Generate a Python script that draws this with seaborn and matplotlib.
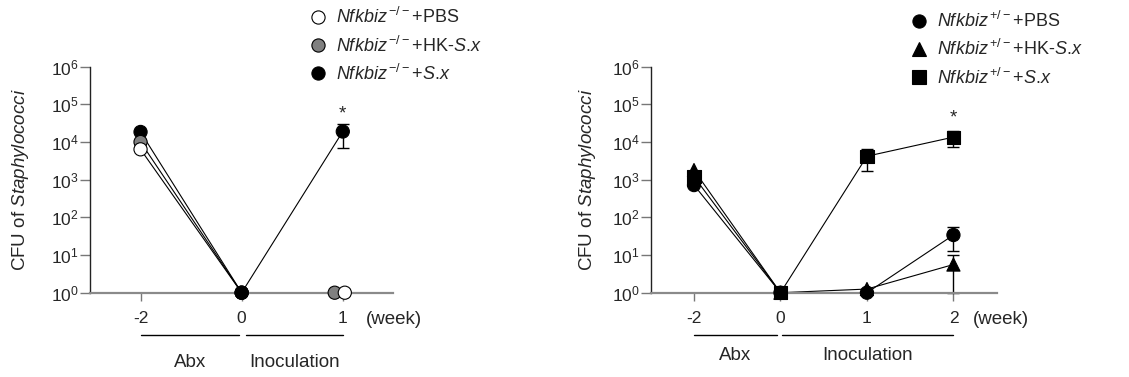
import numpy as np
import pandas as pd
import seaborn as sns
import matplotlib.pyplot as plt
from matplotlib.lines import Line2D
from matplotlib.ticker import LogLocator, NullLocator
import matplotlib.transforms as mtransforms

# Datos (CFU, media y SEM)
weeks_ko = ["-2", "0", "1"]
ko_pbs = [6.4e3, 1, 1]
ko_hk = [1.0e4, 1, 1]
ko_sx = [1.85e4, 1, 1.9e4]
ko_sx_sem = [0, 0, 1.2e4]

weeks_het = ["-2", "0", "1", "2"]
het_pbs = [7.2e2, 1, 1, 34]
het_pbs_sem = [0, 0, 0, 21]
het_hk = [1.8e3, 1, 1.25, 5.6]
het_hk_sem = [0, 0, 0, 4.6]
het_sx = [1.2e3, 1, 4.2e3, 1.35e4]
het_sx_sem = [0, 0, 2.5e3, 6.3e3]

ko_labels = [r"$\mathit{Nfkbiz}^{\,\mathrm{-/-}}$+PBS",
             r"$\mathit{Nfkbiz}^{\,\mathrm{-/-}}$+HK-$\mathit{S}$.$\mathit{x}$",
             r"$\mathit{Nfkbiz}^{\,\mathrm{-/-}}$+$\mathit{S}$.$\mathit{x}$"]
het_labels = [r"$\mathit{Nfkbiz}^{\,\mathrm{+/-}}$+PBS",
              r"$\mathit{Nfkbiz}^{\,\mathrm{+/-}}$+HK-$\mathit{S}$.$\mathit{x}$",
              r"$\mathit{Nfkbiz}^{\,\mathrm{+/-}}$+$\mathit{S}$.$\mathit{x}$"]

# pequeño desplazamiento horizontal para puntos encimados (estilo)
ko_nudge = {"pbs": [0, 0, 0.02], "hk": [0, 0, -0.08], "sx": [0, 0, 0]}

sns.set_theme(style="ticks")
plt.rcParams["font.family"] = ["Liberation Sans", "DejaVu Sans"]
plt.rcParams["mathtext.fontset"] = "custom"
plt.rcParams["mathtext.rm"] = "Liberation Sans"
plt.rcParams["mathtext.it"] = "Liberation Sans:italic"
plt.rcParams["mathtext.bf"] = "Liberation Sans:bold"

FS = 13.5
FS_TICK = 12.5
FS_LEG = 13


def tabla(weeks, series, nudges=None, top_at_zero=None):
    filas = []
    for key, vals in series:
        for i, v in enumerate(vals):
            dx = nudges[key][i] if nudges else 0
            filas.append({"pos": i + dx, "cfu": v, "group": key, "week": i})
    df = pd.DataFrame(filas)
    if top_at_zero:
        # el grupo indicado se dibuja encima en la semana 0
        m = (df["week"] == 1) & (df["group"] == top_at_zero)
        df = pd.concat([df[~m], df[m]], ignore_index=True)
    return df


def panel(ax, weeks, df, palette, markers, sems, labels, handles_kw, leg_anchor, ylab_x):
    sns.lineplot(data=df, x="pos", y="cfu", units="group", estimator=None,
                 color="black", lw=0.8, ax=ax, legend=False, clip_on=False, zorder=2)
    for x, y, s in sems:
        x = np.array(x, float)
        y = np.array(y, float)
        s = np.array(s, float)
        m = s > 0
        ax.errorbar(x[m], y[m], yerr=s[m], fmt="none", ecolor="black",
                    elinewidth=1, capsize=4.5, capthick=1, zorder=2, clip_on=False)
    sns.scatterplot(data=df, x="pos", y="cfu", hue="group", style="group",
                    palette=palette, markers=markers, s=90, edgecolor="black",
                    linewidth=0.8, legend=False, ax=ax, zorder=3, clip_on=False)
    ax.set_yscale("log")
    ax.set_ylim(1, 1e6)
    ax.set_xlim(-0.5, len(weeks) - 0.5)
    ax.yaxis.set_major_locator(LogLocator(base=10, numticks=10))
    ax.yaxis.set_minor_locator(NullLocator())
    ax.set_xticks(range(len(weeks)))
    ax.set_xticklabels(weeks)
    ax.set_xlabel("")
    ax.set_ylabel("CFU of $\\mathit{Staphylococci}$", fontsize=FS)
    ax.yaxis.set_label_coords(ylab_x, 0.5)
    ax.tick_params(axis="y", length=7, width=1, color="#777777", pad=1, labelsize=FS_TICK)
    ax.tick_params(axis="x", length=6, width=1, color="#777777", pad=7, labelsize=FS_TICK)
    sns.despine(ax=ax)
    ax.spines["left"].set_color("#222222")
    ax.spines["left"].set_linewidth(1)
    ax.spines["bottom"].set_color("#8a8a8a")
    ax.spines["bottom"].set_linewidth(1.6)
    tr = mtransforms.blended_transform_factory(ax.transData, ax.transAxes)
    ax.text(len(weeks) - 1 + 0.23, -0.118, "(week)", transform=tr,
            ha="left", va="center", fontsize=FS)
    hs = [Line2D([], [], ls="none", markeredgecolor="black", markeredgewidth=0.8,
                 markersize=9.5, **kw) for kw in handles_kw]
    ax.legend(hs, labels, loc="upper left", bbox_to_anchor=leg_anchor,
              bbox_transform=ax.figure.transFigure, frameon=False, fontsize=FS_LEG,
              handletextpad=0.4, labelspacing=0.45, handlelength=1.2, borderaxespad=0)


fig = plt.figure(figsize=(11.29, 3.77), dpi=100)
axL = fig.add_axes([0.0797, 0.2236, 0.2687, 0.5995])
axR = fig.add_axes([0.5764, 0.2236, 0.3064, 0.5995])

# Panel izquierdo: Nfkbiz -/-
dfL = tabla(weeks_ko, [("sx", ko_sx), ("hk", ko_hk), ("pbs", ko_pbs)], ko_nudge, top_at_zero="sx")
panel(axL, weeks_ko, dfL,
      palette={"sx": "black", "hk": "#808080", "pbs": "white"},
      markers={"sx": "o", "hk": "o", "pbs": "o"},
      sems=[(range(3), ko_sx, ko_sx_sem)],
      labels=ko_labels,
      handles_kw=[dict(marker="o", color="white", markerfacecolor="white"),
                  dict(marker="o", color="#808080", markerfacecolor="#808080"),
                  dict(marker="o", color="black", markerfacecolor="black")],
      leg_anchor=(0.266, 1.0), ylab_x=-0.195)

# Panel derecho: Nfkbiz +/-
dfR = tabla(weeks_het, [("pbs", het_pbs), ("hk", het_hk), ("sx", het_sx)])
panel(axR, weeks_het, dfR,
      palette={"sx": "black", "hk": "black", "pbs": "black"},
      markers={"sx": "s", "hk": "^", "pbs": "o"},
      sems=[(range(4), het_sx, het_sx_sem), (range(4), het_pbs, het_pbs_sem),
            (range(4), het_hk, het_hk_sem)],
      labels=het_labels,
      handles_kw=[dict(marker="o", color="black", markerfacecolor="black"),
                  dict(marker="^", color="black", markerfacecolor="black"),
                  dict(marker="s", color="black", markerfacecolor="black")],
      leg_anchor=(0.798, 0.99), ylab_x=-0.153)

# asteriscos de significancia
axL.annotate("*", xy=(2, ko_sx[2] + ko_sx_sem[2]), xytext=(0, 1), textcoords="offset points",
             ha="center", va="bottom", fontsize=FS)
axR.annotate("*", xy=(3, het_sx[3] + het_sx_sem[3]), xytext=(0, 3), textcoords="offset points",
             ha="center", va="bottom", fontsize=FS)

# barras de periodo (Abx / Inoculation)
for ax, abx_end, ino_start, ino_end, ty in [(axL, 0.975, 1.04, 2.0, -0.31),
                                            (axR, 0.96, 1.02, 3.0, -0.276)]:
    tr = mtransforms.blended_transform_factory(ax.transData, ax.transAxes)
    ax.plot([0, abx_end], [-0.187, -0.187], color="black", lw=1, transform=tr, clip_on=False)
    ax.plot([ino_start, ino_end], [-0.187, -0.187], color="black", lw=1, transform=tr, clip_on=False)
    ax.text((0 + abx_end) / 2, ty, "Abx", transform=tr, ha="center", va="center", fontsize=FS)
    ax.text((ino_start + ino_end) / 2, ty, "Inoculation", transform=tr, ha="center", va="center", fontsize=FS)

fig.savefig("out.png", dpi=100)
